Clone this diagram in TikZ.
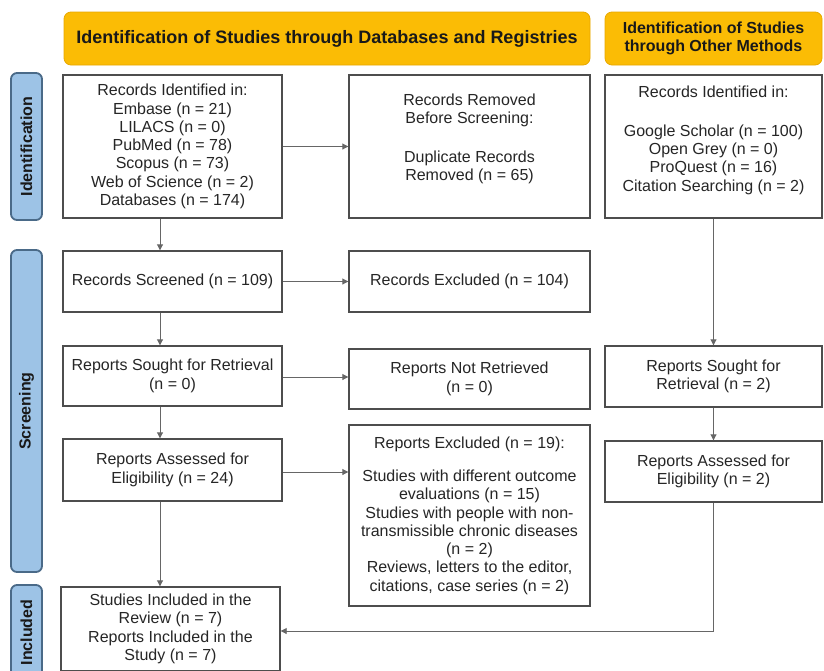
\documentclass[tikz,border=0pt]{standalone}
\usepackage{fontspec}
\setmainfont{Liberation Sans}
\usetikzlibrary{arrows.meta}
\definecolor{gold}{HTML}{FBBC05}
\definecolor{goldline}{HTML}{E8A800}
\definecolor{phasefill}{HTML}{9DC3E6}
\definecolor{phaseline}{HTML}{4A6A88}
\definecolor{boxline}{HTML}{4D4D4D}
\definecolor{arrline}{HTML}{666666}
\begin{document}
\begin{tikzpicture}[x=1pt,y=-1pt,
  box/.style={draw=boxline, line width=1.4pt, fill=white, align=center, inner sep=0pt,
    font=\fontsize{16}{18.3}\selectfont, text=black!85},
  txt/.style={align=center, inner sep=0pt, font=\fontsize{16}{18.3}\selectfont, text=black!85},
  header/.style={draw=goldline, line width=0.8pt, fill=gold, rounded corners=7pt, align=center,
    inner sep=0pt, font=\bfseries\fontsize{16}{18.3}\selectfont, text=black!90},
  phase/.style={draw=phaseline, line width=1.8pt, fill=phasefill, rounded corners=6pt, rotate=90,
    inner sep=0pt, font=\bfseries\fontsize{16}{18}\selectfont, text=black!90},
  arr/.style={draw=arrline, line width=0.9pt, -{Triangle[length=6pt,width=6pt]}}
]
\useasboundingbox (0,0) rectangle (824,670);
\fill[white] (0,0) rectangle (824,670);

% headers
\node[header, minimum width=526pt, minimum height=53pt, font=\bfseries\fontsize{18}{20}\selectfont] (h1) at (327,38.5)
  {Identification of Studies through Databases and Registries};
\node[header, minimum width=217pt, minimum height=53pt] (h2) at (713.5,38.5)
  {Identification of Studies\\through Other Methods};

% phases
\node[phase, minimum width=147pt, minimum height=31pt] (p1) at (26.5,146.5) {Identification};
\node[phase, minimum width=322pt, minimum height=31pt] (p2) at (26.5,411) {Screening};
\node[phase, minimum width=95pt, minimum height=31pt] (p3) at (26.5,632.5) {Included};

% boxes
\node[box, minimum width=219pt, minimum height=143pt] (A) at (172.5,146.5)
  {Records Identified in:\\Embase (n = 21)\\LILACS (n = 0)\\PubMed (n = 78)\\Scopus (n = 73)\\Web of Science (n = 2)\\Databases (n = 174)};
\node[box, minimum width=241pt, minimum height=143pt] (B) at (469.5,146.5) {};
\node[txt, anchor=north] (Bt) at ([yshift=-19pt]B.north)
  {Records Removed\\Before Screening:\\[21pt]Duplicate Records\\Removed (n = 65)};
\node[box, minimum width=217pt, minimum height=143pt] (C) at (713.5,146.5) {};
\node[txt, anchor=north] (Ct) at ([yshift=-11pt]C.north)
  {Records Identified in:\\[21pt]Google Scholar (n = 100)\\Open Grey (n = 0)\\ProQuest (n = 16)\\Citation Searching (n = 2)};

\node[box, minimum width=219pt, minimum height=61pt] (D) at (172.5,281.5) {Records Screened (n = 109)};
\node[box, minimum width=241pt, minimum height=61pt] (E) at (469.5,281.5) {Records Excluded (n = 104)};

\node[box, minimum width=219pt, minimum height=60pt] (F) at (172.5,376) {Reports Sought for Retrieval\\(n = 0)};
\node[box, minimum width=241pt, minimum height=60pt] (G) at (469.5,379) {Reports Not Retrieved\\(n = 0)};
\node[box, minimum width=217pt, minimum height=61pt] (H) at (713.5,376.5) {Reports Sought for\\Retrieval (n = 2)};

\node[box, minimum width=219pt, minimum height=62pt] (I) at (172.5,470) {Reports Assessed for\\Eligibility (n = 24)};
\node[box, minimum width=241pt, minimum height=181pt] (J) at (469.5,515.5)
  {Reports Excluded (n = 19):\\[15pt]Studies with different outcome\\evaluations (n = 15)\\Studies with people with non-\\transmissible chronic diseases\\(n = 2)\\Reviews, letters to the editor,\\citations, case series (n = 2)};
\node[box, minimum width=217pt, minimum height=61pt] (K) at (713.5,471.5) {Reports Assessed for\\Eligibility (n = 2)};

\node[box, minimum width=219pt, minimum height=84pt] (L) at (170.5,629)
  {Studies Included in the\\Review (n = 7)\\Reports Included in the\\Study (n = 7)};

% connectors
\coordinate (colL) at (160,0);
\draw[arr] (A.south -| colL) -- (D.north -| colL);
\draw[arr] (D.south -| colL) -- (F.north -| colL);
\draw[arr] (F.south -| colL) -- (I.north -| colL);
\draw[arr] (I.south -| colL) -- (L.north -| colL);
\draw[arr] (A.east) -- (B.west);
\draw[arr] (D.east) -- (E.west);
\draw[arr] ([yshift=-1pt]F.east) -- ([yshift=-1pt]F.east -| G.west);
\draw[arr] ([yshift=-2pt]I.east) -- ([yshift=-2pt]I.east -| J.west);
\draw[arr] (C.south) -- (H.north);
\draw[arr] (H.south) -- (K.south |- K.north);
\draw[arr] (K.south) |- ([yshift=-2pt]L.east);
\end{tikzpicture}
\end{document}
